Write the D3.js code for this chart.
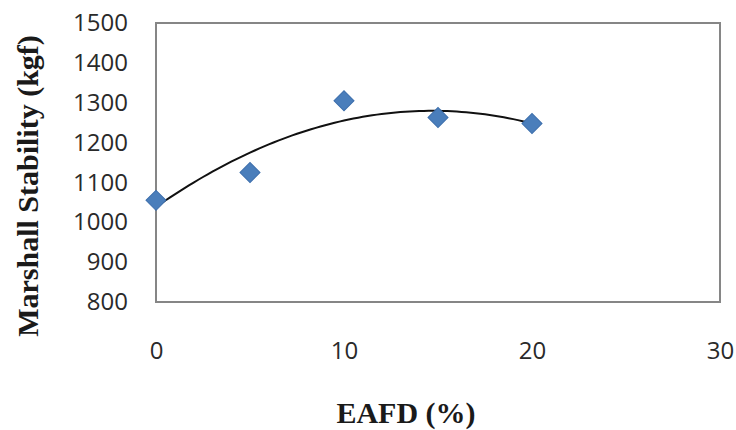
<!DOCTYPE html>
<html><head><meta charset="utf-8">
<script src="https://cdn.jsdelivr.net/npm/d3@7"></script>
<style>
html,body{margin:0;padding:0;background:#fff;}
svg{display:block;}
</style></head>
<body>
<script>
const eafd = [0, 5, 10, 15, 20];
const stability = [1055, 1125, 1305, 1263, 1248];
const xTicks = [0, 10, 20, 30];
const yTicks = [800, 900, 1000, 1100, 1200, 1300, 1400, 1500];
const xTitle = "EAFD (%)";
const yTitle = "Marshall Stability (kgf)";

const W = 736, H = 430;
const m = {left: 156, right: 16, top: 23, bottom: 128};
const svg = d3.select("body").append("svg").attr("width", W).attr("height", H);

const x = d3.scaleLinear().domain([0, 30]).range([m.left, W - m.right]);
const y = d3.scaleLinear().domain([800, 1500]).range([H - m.bottom, m.top]);

// plot box
svg.append("rect")
  .attr("x", x(0)).attr("y", y(1500))
  .attr("width", x(30) - x(0)).attr("height", y(800) - y(1500))
  .attr("fill", "none").attr("stroke", "#868686").attr("stroke-width", 2);

// axes (labels only)
const yAxis = svg.append("g").attr("transform", `translate(${x(0) - 28},0)`)
  .call(d3.axisLeft(y).tickValues(yTicks).tickFormat(d3.format("d")).tickSize(0).tickPadding(0));
const xAxis = svg.append("g").attr("transform", `translate(0,${y(800) + 49})`)
  .call(d3.axisBottom(x).tickValues(xTicks).tickFormat(d3.format("d")).tickSize(0).tickPadding(0));
[yAxis, xAxis].forEach(g => {
  g.select(".domain").remove();
  g.selectAll("text").attr("font-family", "'Open Sans', sans-serif")
    .attr("font-size", 24).attr("fill", "#2a2a2a");
});
xAxis.selectAll("text").attr("dy", "0.32em").attr("y", 0);

// quadratic least-squares trendline
const n = eafd.length;
let S = [0,0,0,0,0], T = [0,0,0];
for (let i = 0; i < n; i++) {
  const xi = eafd[i], yi = stability[i];
  for (let k = 0; k < 5; k++) S[k] += Math.pow(xi, k);
  for (let k = 0; k < 3; k++) T[k] += Math.pow(xi, k) * yi;
}
function solve3(A, b) {
  A = A.map((r, i) => r.concat([b[i]]));
  for (let i = 0; i < 3; i++) {
    let p = i; for (let r = i + 1; r < 3; r++) if (Math.abs(A[r][i]) > Math.abs(A[p][i])) p = r;
    [A[i], A[p]] = [A[p], A[i]];
    for (let r = 0; r < 3; r++) if (r !== i) {
      const f = A[r][i] / A[i][i];
      for (let c = i; c < 4; c++) A[r][c] -= f * A[i][c];
    }
  }
  return A.map((r, i) => r[3] / r[i]);
}
const coef = solve3([[S[0],S[1],S[2]],[S[1],S[2],S[3]],[S[2],S[3],S[4]]], T);
const fit = d3.range(d3.min(eafd), d3.max(eafd) + 0.001, 0.25).map(v => [v, coef[0] + coef[1]*v + coef[2]*v*v]);
svg.append("path").datum(fit)
  .attr("d", d3.line().x(d => x(d[0])).y(d => y(d[1])))
  .attr("fill", "none").attr("stroke", "#111").attr("stroke-width", 2);

// diamond markers
svg.selectAll(".pt").data(eafd.map((v, i) => [v, stability[i]])).enter()
  .append("path").attr("class", "pt")
  .attr("transform", d => `translate(${x(d[0])},${y(d[1])}) rotate(45)`)
  .attr("d", d3.symbol().type(d3.symbolSquare).size(200))
  .attr("fill", "#4A7EBB").attr("stroke", "#3C6EAC").attr("stroke-width", 1);

// titles
svg.append("text").text(xTitle)
  .attr("x", 406).attr("y", 423).attr("text-anchor", "middle")
  .attr("font-family", "'Liberation Serif', 'Times New Roman', serif")
  .attr("font-weight", "bold").attr("font-size", 30).attr("fill", "#1a1a1a");
svg.append("text").text(yTitle)
  .attr("transform", "translate(38,186) rotate(-90)").attr("text-anchor", "middle")
  .attr("font-family", "'Liberation Serif', 'Times New Roman', serif")
  .attr("font-weight", "bold").attr("font-size", 30).attr("fill", "#1a1a1a");
</script>
</body></html>
